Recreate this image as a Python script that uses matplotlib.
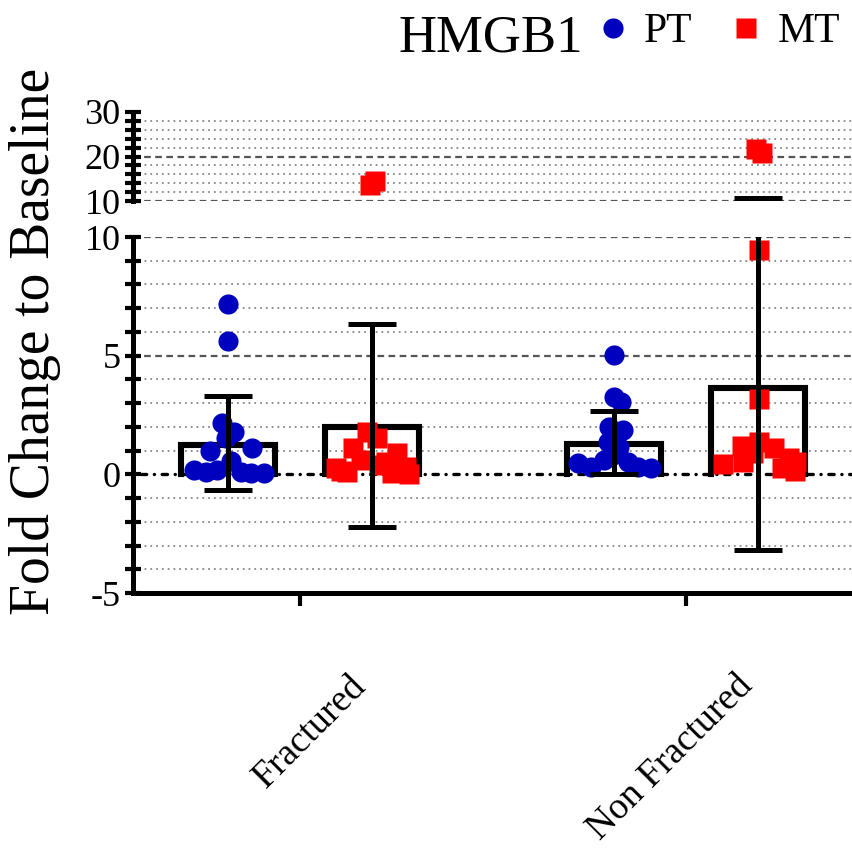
import numpy as np
import matplotlib.pyplot as plt
import matplotlib.transforms as mtrans
from matplotlib.ticker import MultipleLocator

plt.rcParams['font.family'] = ['Liberation Serif', 'DejaVu Serif']
plt.rcParams['axes.unicode_minus'] = False

# --- data ---
groups = ["Fractured", "Non Fractured"]
pt_mean = [1.22, 1.27]
pt_low = [-0.68, 0.02]
pt_high = [3.29, 2.67]
mt_mean = [1.98, 3.63]
mt_low = [-2.20, -3.20]
mt_high = [6.33, 10.70]

# individual values + horizontal jitter (x offset from bar centre)
pt_frac = [7.16, 5.60, 2.15, 1.78, 1.55, 1.00, 1.12, 0.17, 0.10, 0.17, 0.55, 0.10, 0.04, 0.04]
pt_frac_dx = [0.0, 0.0, -0.016, 0.016, -0.005, -0.047, 0.062, -0.088, -0.057, -0.028, 0.008, 0.034, 0.060, 0.093]
mt_frac = [14.4, 13.6, 1.78, 1.53, 1.11, 0.90, 0.30, 0.00, 0.27, 0.13, 0.10, 0.06, 0.38, 0.60, 0.50]
mt_frac_dx = [0.008, -0.005, -0.013, 0.013, -0.049, 0.065, 0.088, 0.096, -0.093, -0.080, -0.065, 0.052, 0.018, -0.028, 0.036]
pt_nonf = [5.02, 3.26, 3.05, 2.00, 1.86, 1.36, 1.15, 0.46, 0.30, 0.60, 0.52, 0.30, 0.25, 0.80]
pt_nonf_dx = [0.0, 0.0, 0.018, -0.013, 0.023, -0.016, 0.013, -0.093, -0.060, -0.026, 0.036, 0.062, 0.096, -0.003]
mt_nonf = [21.7, 20.8, 9.45, 3.16, 1.36, 1.20, 1.10, 0.69, 0.50, 0.42, 0.25, 0.14, 0.50, 0.90]
mt_nonf_dx = [-0.005, 0.010, 0.003, 0.003, 0.003, -0.041, 0.041, 0.080, 0.098, -0.091, 0.062, 0.096, -0.039, -0.013]

BLUE, RED = "#0000BF", "#FF0000"
OFF, BW = 0.187, 0.243
pos = np.arange(len(groups))

fig = plt.figure(figsize=(8.52, 8.48), dpi=100)
L = 133 / 852
ax_top = fig.add_axes([L, 1 - 201 / 848, 1 - L, (201 - 112) / 848])
ax_bot = fig.add_axes([L, 1 - 593 / 848, 1 - L, (593 - 237) / 848])
ranges = {ax_top: (10, 30), ax_bot: (-5, 10)}

series = [
    (pos - OFF, pt_mean, pt_low, pt_high, [pt_frac, pt_nonf], [pt_frac_dx, pt_nonf_dx], "o", BLUE, "PT"),
    (pos + OFF, mt_mean, mt_low, mt_high, [mt_frac, mt_nonf], [mt_frac_dx, mt_nonf_dx], "s", RED, "MT"),
]

handles = []
for ax, (lo, hi) in ranges.items():
    for xs, mean, low, high, pts, dxs, mk, col, lab in series:
        for x, h in zip(xs, mean):  # open bars (no bottom edge)
            ax.plot([x - BW / 2, x - BW / 2, x + BW / 2, x + BW / 2], [0, h, h, 0],
                    color="k", lw=4.4, solid_joinstyle="miter", zorder=3)
        for x, v, d in zip(xs, pts, dxs):
            v = np.asarray(v); d = np.asarray(d)
            m = (v >= lo) & (v <= hi)
            ln, = ax.plot(x + d[m], v[m], mk, ms=14.5, color=col, mec="none", zorder=4, label=lab)
            if ax is ax_bot and lab not in [hh.get_label() for hh in handles]:
                handles.append(ln)
        mean_a = np.asarray(mean)
        yerr = [mean_a - np.asarray(low), np.asarray(high) - mean_a]
        ax.errorbar(xs, mean_a, yerr=yerr, fmt="none", ecolor="k", elinewidth=3.6,
                    capsize=17, capthick=3.6, zorder=5)
    ax.set_ylim(lo, hi)
    ax.set_xlim(-0.433, 1.43)
    for s in ("top", "right"):
        ax.spines[s].set_visible(False)
    ax.spines["left"].set_linewidth(3.6)
    ax.spines["bottom"].set_linewidth(3.6)
    ax.tick_params(axis="y", which="both", direction="inout", length=12, width=3,
                   labelsize=26, pad=3)
    ax.grid(axis="y", which="major", ls=(0, (3, 2)), color="#555555", lw=1.6, zorder=1)
    ax.grid(axis="y", which="minor", ls=(0, (1, 2.2)), color="#888888", lw=1.3, zorder=1)

ax_top.yaxis.set_major_locator(MultipleLocator(10))
ax_top.yaxis.set_minor_locator(MultipleLocator(2))
ax_bot.yaxis.set_major_locator(MultipleLocator(5))
ax_bot.yaxis.set_minor_locator(MultipleLocator(1))

ax_top.spines["bottom"].set_visible(False)
ax_top.tick_params(axis="x", bottom=False, labelbottom=False)

# hide grid at 30 (top edge) and at 0 (own dash-dot line)
for ax, skip in ((ax_top, 30), (ax_bot, 0)):
    locs = ax.yaxis.get_majorticklocs()
    for t, v in zip(ax.yaxis.get_major_ticks(len(locs)), locs):
        if np.isclose(v, skip):
            t.gridline.set_visible(False)

ax_bot.axhline(0, color="k", lw=2.4, ls=(0, (0.05, 2.3, 1.6, 2.3)),
               dash_capstyle="round", zorder=2)

ax_bot.set_xticks(pos, groups)
ax_bot.tick_params(axis="x", direction="out", length=9, width=3, labelsize=27, pad=2)
shift = mtrans.ScaledTranslation(0.49, -0.60, fig.dpi_scale_trans)
for lbl in ax_bot.get_xticklabels():
    lbl.set_rotation(45)
    lbl.set_ha("right")
    lbl.set_va("top")
    lbl.set_rotation_mode("anchor")
    lbl.set_transform(lbl.get_transform() + shift)

fig.text(35 / 852, 1 - 341 / 848, "Fold Change to Baseline", rotation=90,
         fontsize=40, ha="center", va="center")
fig.text(398 / 852, 1 - 52 / 848, "HMGB1", fontsize=38, ha="left", va="baseline")
fig.legend(handles=handles, labels=["PT", "MT"], loc="center left",
           bbox_to_anchor=(600 / 852, 1 - 32 / 848), ncol=2, frameon=False,
           fontsize=30, handlelength=0.6, handletextpad=0.45, columnspacing=1.0,
           borderpad=0, borderaxespad=0, numpoints=1)

fig.savefig("out.png", dpi=100)
